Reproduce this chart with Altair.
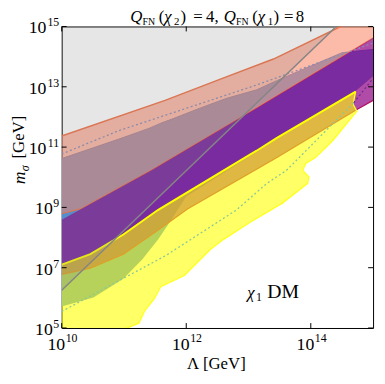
import altair as alt
import pandas as pd

# ---------------- data (log10 values) ----------------
X_DOMAIN = [1e10, 1e15]
Y_DOMAIN = [1e5, 1e15]
X_TICK_EXP = [10, 12, 14]
Y_TICK_EXP = [5, 7, 9, 11, 13, 15]

# boundaries: (log10 Lambda, log10 m_sigma)
GRAY_LINE = [(10.0, 6.25), (14.41, 15.0)]
GRAY_REGION = [(10.0, 6.25), (14.41, 15.0), (10.0, 15.0)]
SALMON_TOP = [(10.0, 11.37), (11.66, 12.55), (12.58, 13.28), (13.40, 13.92), (14.48, 15.0), (15.0, 15.55)]
SALMON_BOTTOM = [(10.0, 8.79), (10.30, 8.95), (11.44, 10.23), (13.13, 12.30), (15.0, 14.62)]
BLUE_TOP = [(10.0, 10.62), (10.91, 11.26), (11.40, 11.62), (11.60, 11.80), (11.76, 11.92),
            (12.23, 12.30), (12.65, 12.62), (13.13, 12.90), (13.45, 13.20), (14.50, 14.13), (15.0, 14.24)]
BLUE_BOTTOM = [(15.0, 13.35), (14.72, 12.86), (13.45, 11.26), (13.13, 10.84), (12.0, 9.36),
               (11.70, 8.40), (11.55, 7.94), (11.30, 7.29), (10.99, 6.63), (10.51, 6.01), (10.0, 5.71)]
PURPLE_TOP = [(10.0, 8.59), (11.44, 10.23), (13.13, 12.30), (15.0, 14.62)]
PURPLE_BOTTOM = [(10.0, 6.78), (10.46, 6.98), (10.99, 7.45), (11.55, 8.25), (12.02, 8.95),
                 (13.45, 10.65), (14.74, 12.25), (15.0, 12.55)]
YELLOW_TOP = [(10.0, 7.10), (10.46, 7.45), (10.99, 8.10), (11.55, 8.92), (13.13, 10.88),
              (13.45, 11.30), (14.72, 12.84)]
YELLOW_EDGE = [(14.72, 12.84), (14.68, 12.42), (14.74, 12.19), (14.35, 11.21), (14.08, 10.66),
               (13.92, 10.46), (13.87, 10.23), (13.97, 10.01), (13.95, 9.80), (13.55, 9.15),
               (13.02, 8.50), (12.60, 7.94), (12.39, 7.61), (11.97, 6.74), (11.59, 6.37),
               (11.49, 5.98), (11.33, 5.56), (11.24, 5.16), (10.99, 4.95)]
DOTTED_SALMON = [(10.0, 10.77), (10.91, 11.54), (13.13, 13.06), (15.0, 14.45)]
DOTTED_YELLOW = [(10.0, 5.55), (11.67, 7.40), (12.81, 8.92), (13.29, 9.79), (13.61, 10.23),
                 (14.24, 11.54), (14.69, 12.47)]
DOTTED_PURPLE = [(14.69, 12.47), (15.0, 13.28)]
LABEL_CHI = (12.98, 5.98)
LABEL_SUB = (13.12, 5.88)
LABEL_DM = (13.30, 5.98)

SERIF = "Liberation Serif"
W, H = 316, 306

XS = alt.Scale(type="log", domain=X_DOMAIN, nice=False)
YS = alt.Scale(type="log", domain=Y_DOMAIN, nice=False)


def df(points):
    return pd.DataFrame({"x": [10.0 ** p[0] for p in points],
                         "y": [10.0 ** p[1] for p in points],
                         "o": list(range(len(points)))})


def enc(ch):
    return ch.encode(x=alt.X("x:Q", scale=XS, axis=None), y=alt.Y("y:Q", scale=YS, axis=None), order="o:Q")


def polygon(points, color, alpha):
    pts = list(points) + [points[0]]
    return enc(alt.Chart(df(pts)).mark_line(fill=color, fillOpacity=alpha, strokeOpacity=0, clip=True))


def line(points, color, width=1.0, dash=None, opacity=1.0):
    kw = dict(color=color, strokeWidth=width, clip=True, opacity=opacity)
    if dash:
        kw["strokeDash"] = dash
    return enc(alt.Chart(df(points)).mark_line(**kw))


layers = []
# blue region (opaque, bottom)
layers.append(polygon(BLUE_TOP + BLUE_BOTTOM, "#4a90e0", 1.0))
layers.append(line(BLUE_TOP, "#3f78c8", 1.0))
# salmon band
layers.append(polygon(SALMON_TOP + SALMON_BOTTOM[::-1], "#fa8c6e", 0.6))
layers.append(line(SALMON_TOP, "#f07448", 1.5))
layers.append(line(SALMON_BOTTOM, "#f07448", 1.2))
# purple band
layers.append(polygon(PURPLE_TOP + PURPLE_BOTTOM[::-1], "#8e0083", 0.7))
layers.append(line(PURPLE_BOTTOM, "#b01060", 1.2))
# yellow region
yellow_poly = YELLOW_TOP + YELLOW_EDGE + [(10.0, 4.95)]
layers.append(polygon(yellow_poly, "#ffff00", 0.6))
layers.append(line(YELLOW_EDGE, "#ffff20", 1.3))
layers.append(line(YELLOW_TOP, "#ffff00", 2.0))
# dotted lines
layers.append(line(DOTTED_SALMON, "#8c8cb4", 1.3, [2, 2.5]))
layers.append(line(DOTTED_YELLOW, "#8cc896", 1.3, [2, 2.5]))
layers.append(line(DOTTED_PURPLE, "#6a2c96", 1.3, [2, 2.5]))
# gray region and line
layers.append(polygon(GRAY_REGION, "#808080", 0.2))
layers.append(line(GRAY_LINE, "#858585", 1.5))

# ticks (inward, on all four sides)
xt = pd.DataFrame({"v": [10.0 ** e for e in X_TICK_EXP], "e": [str(e) for e in X_TICK_EXP]})
yt = pd.DataFrame({"v": [10.0 ** e for e in Y_TICK_EXP], "e": [str(e) for e in Y_TICK_EXP],
                   "n": [len(str(e)) for e in Y_TICK_EXP]})
for y0, y1 in [(H, H - 5), (0, 5)]:
    layers.append(alt.Chart(xt).mark_rule(color="black", strokeWidth=1).encode(
        x=alt.X("v:Q", scale=XS, axis=None), y=alt.value(y0), y2=alt.value(y1)))
for x0, x1 in [(0, 5), (W, W - 5)]:
    layers.append(alt.Chart(yt).mark_rule(color="black", strokeWidth=1).encode(
        y=alt.Y("v:Q", scale=YS, axis=None), x=alt.value(x0), x2=alt.value(x1)))

# tick labels: "10" + raised exponent
layers.append(alt.Chart(xt).mark_text(text="10", font=SERIF, fontSize=18, align="right",
                                       baseline="alphabetic", dx=3.5, color="black").encode(
    x=alt.X("v:Q", scale=XS, axis=None), y=alt.value(H + 22)))
layers.append(alt.Chart(xt).mark_text(font=SERIF, fontSize=12, align="left",
                                       baseline="alphabetic", dx=4, color="black").encode(
    x=alt.X("v:Q", scale=XS, axis=None), y=alt.value(H + 14), text="e:N"))
for n, off in [(1, -9.0), (2, -15.5)]:
    sub = yt[yt["n"] == n]
    layers.append(alt.Chart(sub).mark_text(text="10", font=SERIF, fontSize=18, align="right",
                                            baseline="alphabetic", dy=7, color="black").encode(
        y=alt.Y("v:Q", scale=YS, axis=None), x=alt.value(off)))
layers.append(alt.Chart(yt).mark_text(font=SERIF, fontSize=12, align="right",
                                       baseline="alphabetic", dy=0, color="black").encode(
    y=alt.Y("v:Q", scale=YS, axis=None), x=alt.value(-2.5), text="e:N"))


# annotation inside the plot
def data_text(s, pos, size, italic=False):
    d = pd.DataFrame({"x": [10.0 ** pos[0]], "y": [10.0 ** pos[1]]})
    kw = dict(text=s, font=SERIF, fontSize=size, align="left", baseline="alphabetic", color="black")
    if italic:
        kw["fontStyle"] = "italic"
    return alt.Chart(d).mark_text(**kw).encode(
        x=alt.X("x:Q", scale=XS, axis=None), y=alt.Y("y:Q", scale=YS, axis=None))


layers.append(data_text("χ", LABEL_CHI, 17, italic=True))
layers.append(data_text("1", LABEL_SUB, 12))
layers.append(data_text("DM", LABEL_DM, 20))

one = pd.DataFrame({"a": [0]})


def txt(s, x, y, size=16, italic=False, angle=0, align="left"):
    kw = dict(text=s, font=SERIF, fontSize=size, align=align, baseline="alphabetic", color="black")
    if italic:
        kw["fontStyle"] = "italic"
    if angle:
        kw["angle"] = angle
    return alt.Chart(one).mark_text(**kw).encode(x=alt.value(x), y=alt.value(y))


# title: Q_FN(chi2) = 4, Q_FN(chi1) = 8   (page x - 62.5)
layers += [
    txt("Q", 69.5, -5, 17, italic=True),
    txt("FN", 82.0, -2, 10),
    txt("(", 98.5, -5, 17),
    txt("χ", 104.0, -5, 17, italic=True),
    txt("2", 114.0, -1.5, 11),
    txt(")", 120.5, -5, 17),
    txt("=", 133.5, -5, 17),
    txt("4,", 146.5, -5, 17),
    txt("Q", 164.5, -5, 17, italic=True),
    txt("FN", 177.0, -2, 10),
    txt("(", 193.5, -5, 17),
    txt("χ", 199.0, -5, 17, italic=True),
    txt("1", 209.0, -1.5, 11),
    txt(")", 215.0, -5, 17),
    txt("=", 225.5, -5, 17),
    txt("8", 237.5, -5, 17),
]
# x axis title
layers.append(txt("Λ [GeV]", 157.0, 348, 17, align="center"))
# y axis title (rotated)
layers += [
    txt("m", -37.5, 160, 18, italic=True, angle=270),
    txt("σ", -33.0, 147, 12, italic=True, angle=270),
    txt("[GeV]", -38.5, 134, 17, angle=270),
]

chart = alt.layer(*layers).properties(
    width=W, height=H,
    autosize=alt.AutoSizeParams(type="none"),
    padding={"left": 54.5, "top": 16, "right": 4, "bottom": 50},
).configure_view(stroke="black", strokeWidth=1)

chart.save("out.html", embed_options={"renderer": "svg", "actions": False})
